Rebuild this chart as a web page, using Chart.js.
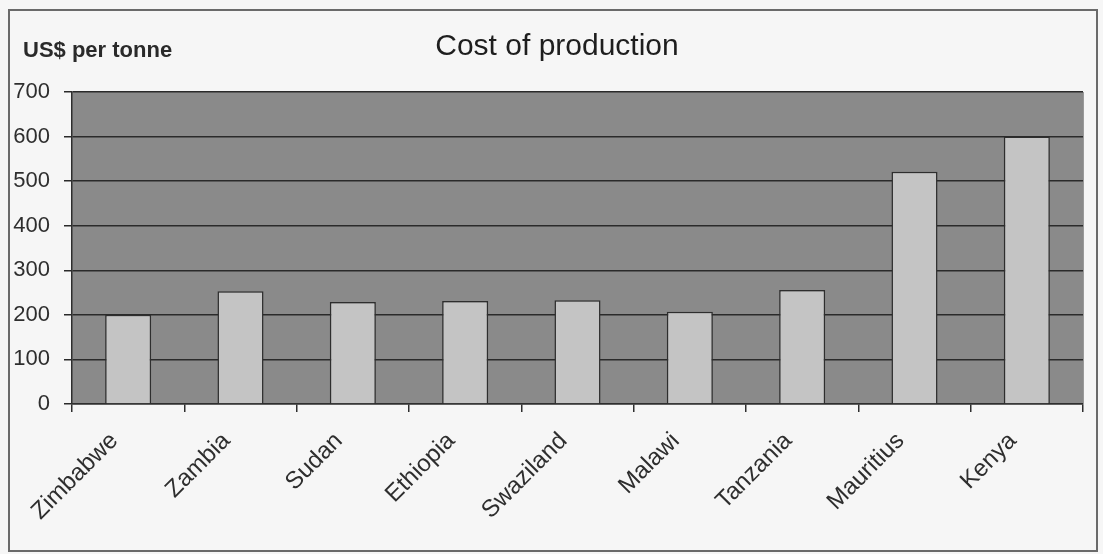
<!DOCTYPE html>
<html>
<head>
<meta charset="utf-8">
<script src="https://cdn.jsdelivr.net/npm/chart.js@4"></script>
<style>
  html, body { margin: 0; padding: 0; background: #f6f6f6; }
  #wrap { position: relative; width: 1103px; height: 554px; }
</style>
</head>
<body>
<div id="wrap"><canvas id="c" width="1103" height="554"></canvas></div>
<script>
const categories = ['Zimbabwe', 'Zambia', 'Sudan', 'Ethiopia', 'Swaziland', 'Malawi', 'Tanzania', 'Mauritius', 'Kenya'];
const costValues = [200, 253, 229, 231, 233, 207, 256, 521, 600];
const yTicks = [0, 100, 200, 300, 400, 500, 600, 700];
const chartTitle = 'Cost of production';
const unitLabel = 'US$ per tonne';

const framePlugin = {
  id: 'framePlugin',
  beforeDraw(chart) {
    const ctx = chart.ctx;
    const a = chart.chartArea;
    ctx.save();
    ctx.fillStyle = '#f6f6f6';
    ctx.fillRect(0, 0, chart.width, chart.height);
    ctx.strokeStyle = '#6a6a6a';
    ctx.lineWidth = 2;
    ctx.strokeRect(9, 10, 1088, 541);
    ctx.fillStyle = '#8a8a8a';
    ctx.fillRect(a.left, a.top, a.right - a.left, a.bottom - a.top);
    ctx.restore();
  },
  afterDraw(chart) {
    const ctx = chart.ctx;
    const a = chart.chartArea;
    ctx.save();
    ctx.strokeStyle = '#9a9a9a';
    ctx.lineWidth = 1;
    ctx.beginPath();
    ctx.moveTo(a.right + 0.5, a.top);
    ctx.lineTo(a.right + 0.5, a.bottom);
    ctx.stroke();
    ctx.fillStyle = '#2a2a2a';
    ctx.textBaseline = 'middle';
    ctx.textAlign = 'left';
    ctx.font = 'bold 22px "Liberation Sans", Arial, sans-serif';
    ctx.fillText(unitLabel, 23, 51);
    ctx.textAlign = 'center';
    ctx.fillStyle = '#1e1e1e';
    ctx.font = '30px "Liberation Sans", Arial, sans-serif';
    ctx.fillText(chartTitle, 557, 47);
    ctx.restore();
  }
};

new Chart(document.getElementById('c'), {
  type: 'bar',
  data: {
    labels: categories,
    datasets: [{
      label: chartTitle,
      data: costValues,
      backgroundColor: '#c4c4c4',
      borderColor: '#2e2e2e',
      borderWidth: 1.5,
      categoryPercentage: 1,
      barPercentage: 0.41
    }]
  },
  options: {
    responsive: false,
    animation: false,
    layout: { padding: { left: 0, right: 20, top: 92, bottom: 0 } },
    plugins: {
      legend: { display: false },
      tooltip: { enabled: false },
      title: { display: false }
    },
    scales: {
      x: {
        afterFit(scale) { scale.height = 150; },
        grid: { display: true, drawOnChartArea: false, drawTicks: true, tickLength: 8, color: '#2e2e2e', lineWidth: 1.5, offset: true },
        border: { display: true, color: '#2e2e2e', width: 1.5 },
        ticks: {
          autoSkip: false, maxRotation: 45, minRotation: 45,
          color: '#2e2e2e', padding: 15, labelOffset: -14,
          font: { family: '"Liberation Sans", Arial, sans-serif', size: 24 }
        }
      },
      y: {
        min: 0, max: 700,
        afterFit(scale) { scale.width = 72; },
        afterBuildTicks(scale) { scale.ticks = yTicks.map(v => ({ value: v })); },
        grid: { color: '#2a2a2a', lineWidth: 1.5, tickLength: 8, drawTicks: true },
        border: { display: true, color: '#2e2e2e', width: 1.5 },
        ticks: {
          color: '#2e2e2e', padding: 14,
          font: { family: '"Liberation Sans", Arial, sans-serif', size: 22 }
        }
      }
    }
  },
  plugins: [framePlugin]
});
</script>
</body>
</html>
